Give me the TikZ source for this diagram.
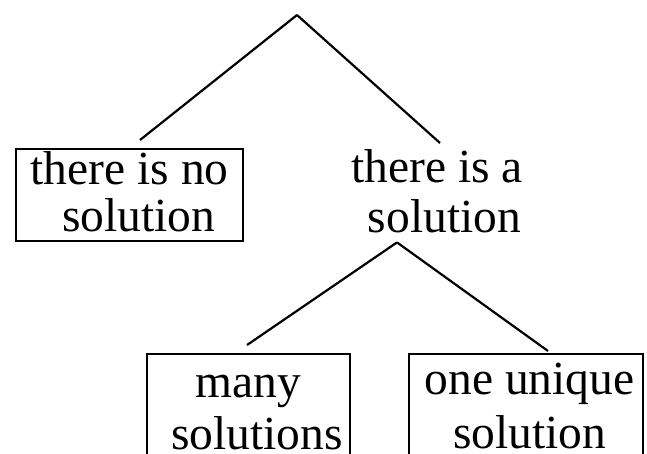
\documentclass[tikz,border=0pt]{standalone}
\usepackage{fontspec}
\setmainfont{Liberation Serif}
\usetikzlibrary{calc}
% #1 width, #2 height, #3 first-baseline offset, #4 baselineskip, #5 text
\newcommand{\lbltext}[5]{\parbox[c][#2][t]{#1}{\centering\fontsize{47.5}{#4}\selectfont\rule{0pt}{#3}#5\par}}
\begin{document}
\begin{tikzpicture}[x=1pt,y=-1pt,
  conn/.style={line width=2.2pt},
  boxnode/.style={draw,line width=2.2pt,inner sep=0pt,anchor=north west},
  plain/.style={inner sep=0pt,anchor=north}]
\useasboundingbox (0,0) rectangle (647,453);
\clip (0,0) rectangle (647,453);
\coordinate (top) at (297,15);
\node[boxnode] (nosol) at (15,148) {\lbltext{227pt}{92pt}{35pt}{47pt}{there is no\\\hspace*{18pt}solution}};
\node[plain] (sol) at (437,148) {\lbltext{220pt}{94pt}{34pt}{50pt}{there is a\\\hspace*{15pt}solution}};
\node[boxnode] (many) at (146,353) {\lbltext{203pt}{125pt}{43pt}{52pt}{many\\\hspace*{17pt}solutions}};
\node[boxnode] (one) at (408,353) {\lbltext{234pt}{125pt}{40pt}{54pt}{\hspace*{7pt}one unique\\\hspace*{7pt}solution}};
\coordinate (split) at ($(sol.south)+(-40,0)$);
\draw[conn] (top) -- ($(nosol.north west)+(125,-8)$);
\draw[conn] (top) -- ($(sol.north)+(3,-5)$);
\draw[conn] (split) -- ($(many.north west)+(101,-8)$);
\draw[conn] (split) -- ($(one.north west)+(140,-2)$);
\end{tikzpicture}
\end{document}
